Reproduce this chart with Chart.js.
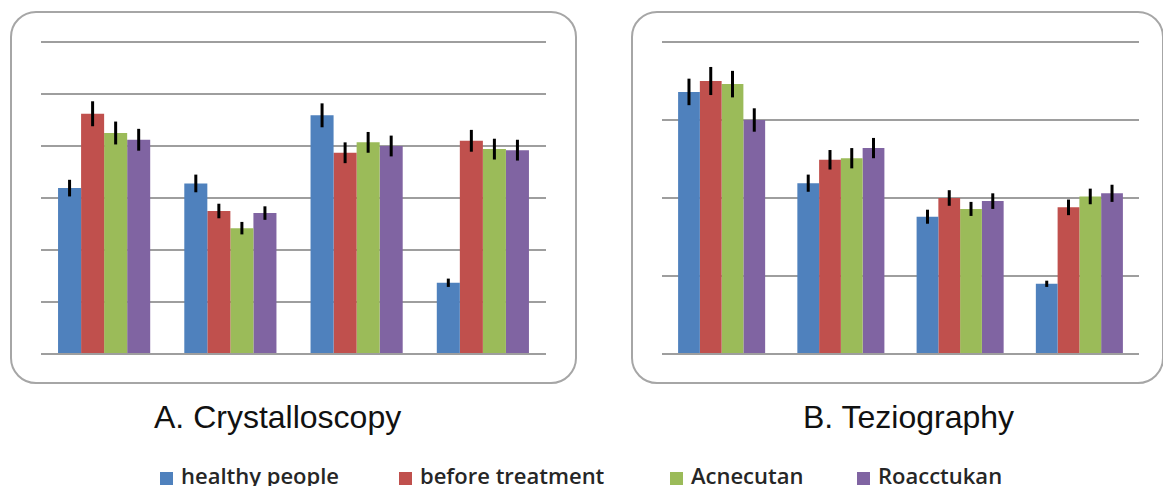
<!DOCTYPE html>
<html>
<head>
<meta charset="utf-8">
<script src="https://cdn.jsdelivr.net/npm/chart.js@4"></script>
<style>
    html, body {
        margin: 0;
        padding: 0;
        background: #ffffff;
        width: 1163px;
        height: 486px;
        overflow: hidden;
        position: relative;
    }
    .panel {
        position: absolute;
        border: 2px solid #a6a6a6;
        border-radius: 26px;
        box-sizing: border-box;
    }
    canvas {
        position: absolute;
    }
    .title {
        position: absolute;
        font-family: "Liberation Sans", Arial, sans-serif;
        font-size: 32px;
        color: #111111;
        white-space: nowrap;
        line-height: 1;
    }
    .legend-item {
        position: absolute;
        top: 461px;
        font-family: "Open Sans", Lato, sans-serif;
        font-size: 22px;
        font-weight: 600;
        color: #262626;
        white-space: nowrap;
        line-height: 28px;
    }
    .legend-item span {
        display: inline-block;
        width: 13px;
        height: 13px;
        margin-right: 8px;
        vertical-align: -1px;
    }
</style>
</head>
<body>
<div class="panel" style="left: 10px; top: 11px; width: 567px; height: 373px;"></div>
<div class="panel" style="left: 631px; top: 11px; width: 533px; height: 373px;"></div>
<canvas id="crystChart" width="505" height="324" style="left: 41px; top: 36px;"></canvas>
<canvas id="teziChart" width="477" height="324" style="left: 662px; top: 36px;"></canvas>
<div class="title" style="left: 154px; top: 401px;">A. Crystalloscopy</div>
<div class="title" style="left: 803px; top: 401px;">B. Teziography</div>
<div id="legend"></div>

<script>
const categories = ["1", "2", "3", "4"];
const seriesNames = ["healthy people", "before treatment", "Acnecutan", "Roacctukan"];
const seriesColors = ["#4f81bd", "#c0504d", "#9bbb59", "#8064a2"];

// A. Crystalloscopy
const crystHealthy = [3.19, 3.28, 4.59, 1.37];
const crystBefore = [4.62, 2.75, 3.87, 4.10];
const crystAcnecutan = [4.25, 2.42, 4.07, 3.94];
const crystRoacctukan = [4.12, 2.71, 4.00, 3.92];
const crystHealthyErr = [0.16, 0.17, 0.23, 0.08];
const crystBeforeErr = [0.24, 0.14, 0.20, 0.21];
const crystAcnecutanErr = [0.22, 0.12, 0.20, 0.20];
const crystRoacctukanErr = [0.21, 0.13, 0.20, 0.20];
const crystAxis = { min: 0, max: 6, step: 1 };

// B. Teziography
const teziHealthy = [3.36, 2.19, 1.76, 0.90];
const teziBefore = [3.50, 2.49, 2.00, 1.88];
const teziAcnecutan = [3.46, 2.51, 1.86, 2.02];
const teziRoacctukan = [3.00, 2.64, 1.96, 2.06];
const teziHealthyErr = [0.17, 0.11, 0.09, 0.04];
const teziBeforeErr = [0.18, 0.125, 0.10, 0.10];
const teziAcnecutanErr = [0.17, 0.13, 0.09, 0.10];
const teziRoacctukanErr = [0.15, 0.13, 0.10, 0.11];
const teziAxis = { min: 0, max: 4, step: 1 };

// draws black error bars on top of each bar
const errorBarPlugin = {
    id: "errorBars",
    afterDatasetsDraw(chart) {
        const ctx = chart.ctx;
        const yScale = chart.scales.y;
        ctx.save();
        ctx.strokeStyle = "#000000";
        ctx.lineWidth = 3;
        chart.data.datasets.forEach((dataset, i) => {
            const meta = chart.getDatasetMeta(i);
            meta.data.forEach((bar, j) => {
                const value = dataset.data[j];
                const err = dataset.errors[j];
                ctx.beginPath();
                ctx.moveTo(bar.x, yScale.getPixelForValue(value + err));
                ctx.lineTo(bar.x, yScale.getPixelForValue(value - err));
                ctx.stroke();
            });
        });
        ctx.restore();
    }
};

function makeDatasets(values, errors) {
    return values.map((data, i) => ({
        label: seriesNames[i],
        data,
        errors: errors[i],
        backgroundColor: seriesColors[i],
        borderWidth: 0,
        categoryPercentage: 0.73,
        barPercentage: 1
    }));
}

function makeChart(canvasId, values, errors, axis) {
    return new Chart(document.getElementById(canvasId), {
        type: "bar",
        data: {
            labels: categories,
            datasets: makeDatasets(values, errors)
        },
        options: {
            responsive: false,
            animation: false,
            layout: { padding: { top: 6, bottom: 6, left: 0, right: 0 } },
            plugins: {
                legend: { display: false },
                tooltip: { enabled: false }
            },
            scales: {
                x: { display: false },
                y: {
                    min: axis.min,
                    max: axis.max,
                    ticks: { display: false, stepSize: axis.step },
                    border: { display: false },
                    grid: { color: "#9e9e9e", lineWidth: 2, drawTicks: false }
                }
            }
        },
        plugins: [errorBarPlugin]
    });
}

makeChart(
    "crystChart",
    [crystHealthy, crystBefore, crystAcnecutan, crystRoacctukan],
    [crystHealthyErr, crystBeforeErr, crystAcnecutanErr, crystRoacctukanErr],
    crystAxis
);

makeChart(
    "teziChart",
    [teziHealthy, teziBefore, teziAcnecutan, teziRoacctukan],
    [teziHealthyErr, teziBeforeErr, teziAcnecutanErr, teziRoacctukanErr],
    teziAxis
);

// shared legend under both panels
const legendLefts = [160, 399, 670, 857];
const legend = document.getElementById("legend");
seriesNames.forEach((name, i) => {
    const item = document.createElement("div");
    item.className = "legend-item";
    item.style.left = legendLefts[i] + "px";
    const swatch = document.createElement("span");
    swatch.style.background = seriesColors[i];
    item.appendChild(swatch);
    item.appendChild(document.createTextNode(name));
    legend.appendChild(item);
});
</script>
</body>
</html>
